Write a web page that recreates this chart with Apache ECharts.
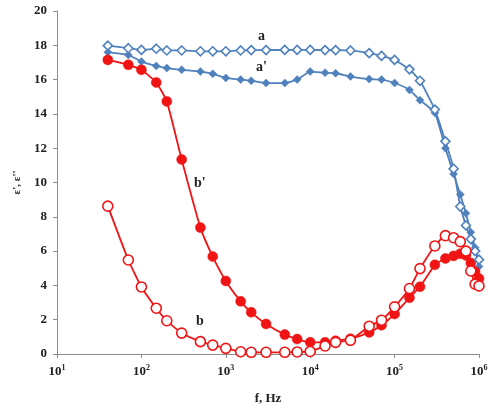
<!DOCTYPE html>
<html>
<head>
<meta charset="utf-8">
<script src="https://cdn.jsdelivr.net/npm/echarts@6/dist/echarts.min.js"></script>
<style>
  html, body { margin: 0; padding: 0; background: #fff; }
  #chart { width: 492px; height: 410px; }
</style>
</head>
<body>
<div id="chart"></div>
<script>
// frequencies, Hz
var freq = [40, 70, 100, 150, 200, 300, 500, 700, 1000, 1500, 2000, 3000, 5000, 7000,
  10000, 15000, 20000, 30000, 50000, 70000, 100000, 150000, 200000, 300000, 400000,
  500000, 600000, 700000, 800000, 900000, 1000000];

// a  (open diamonds)
var epsA = [17.98, 17.83, 17.73, 17.8, 17.7, 17.7, 17.65, 17.65, 17.65, 17.7, 17.72, 17.72,
  17.73, 17.73, 17.73, 17.72, 17.72, 17.7, 17.54, 17.38, 17.15, 16.6, 15.93, 14.25, 12.4,
  10.8, 8.6, 7.5, 6.7, 6.0, 5.5];
// a' (filled diamonds)
var epsA2 = [17.6, 17.44, 17.05, 16.8, 16.67, 16.57, 16.47, 16.34, 16.1, 16.0, 15.93, 15.8,
  15.8, 16.0, 16.47, 16.4, 16.37, 16.18, 16.03, 16.0, 15.8, 15.4, 14.8, 14.06, 12.0,
  10.5, 9.3, 8.2, 7.1, 6.2, 5.1];
// b  (open circles)
var epsB = [8.62, 5.48, 3.91, 2.67, 1.94, 1.22, 0.72, 0.52, 0.33, 0.13, 0.1, 0.1, 0.1, 0.12,
  0.15, 0.47, 0.68, 0.8, 1.62, 1.97, 2.75, 3.82, 4.98, 6.3, 6.9, 6.78, 6.55, 6.0, 4.84,
  4.07, 3.97];
// b' (filled circles)
var epsB2 = [17.15, 16.86, 16.57, 15.83, 14.73, 11.34, 7.37, 5.68, 4.26, 3.07, 2.43, 1.75,
  1.13, 0.87, 0.68, 0.68, 0.77, 0.89, 1.26, 1.68, 2.33, 3.28, 3.92, 5.2, 5.57, 5.72,
  5.84, 5.75, 5.3, 4.8, 4.4];

var yTicks = [0, 2, 4, 6, 8, 10, 12, 14, 16, 18, 20];

var blue = "#4f81bd";
var red = "#f01414";
var serif = "Liberation Serif";

function pairs(arr) {
  return freq.map(function (f, i) { return [f, arr[i]]; });
}

function makeSeries(name, arr, color, symbol, size, open) {
  return {
    name: name,
    type: "line",
    data: pairs(arr),
    symbol: symbol,
    symbolSize: size,
    showAllSymbol: true,
    smooth: 0.15,
    lineStyle: { color: color, width: 1.8 },
    itemStyle: {
      color: open ? "#ffffff" : color,
      borderColor: color,
      borderWidth: open ? 1.6 : 0.5
    },
    emphasis: { disabled: true },
    z: open ? 3 : 2
  };
}

var chart = echarts.init(document.getElementById("chart"));
chart.setOption({
  animation: false,
  backgroundColor: "#ffffff",
  grid: { left: 57, right: 13, top: 11, bottom: 55 },
  xAxis: {
    type: "log",
    logBase: 10,
    min: 10,
    max: 1000000,
    name: "f, Hz",
    nameLocation: "middle",
    nameGap: 38,
    nameTextStyle: { fontFamily: serif, fontWeight: "bold", fontSize: 13, color: "#222" },
    axisLine: { lineStyle: { color: "#8c8c8c", width: 1 } },
    axisTick: { show: true, length: 4, lineStyle: { color: "#8c8c8c" } },
    minorTick: { show: false },
    splitLine: { show: false },
    axisLabel: {
      margin: 10,
      formatter: function (v) {
        return "{b|10}{s|" + Math.round(Math.log10(v)) + "}";
      },
      rich: {
        b: { fontFamily: serif, fontWeight: "bold", fontSize: 13, color: "#222", verticalAlign: "bottom" },
        s: { fontFamily: serif, fontWeight: "bold", fontSize: 8, color: "#222", verticalAlign: "top", padding: [0, 0, 6, 0] }
      }
    }
  },
  yAxis: {
    type: "value",
    min: yTicks[0],
    max: yTicks[yTicks.length - 1],
    interval: 2,
    name: "ε', ε''",
    nameLocation: "middle",
    nameGap: 34,
    nameTextStyle: { fontFamily: serif, fontWeight: "bold", fontSize: 11, color: "#222" },
    axisLine: { show: true, lineStyle: { color: "#8c8c8c", width: 1 } },
    axisTick: { show: true, length: 4, lineStyle: { color: "#8c8c8c" } },
    splitLine: { show: false },
    axisLabel: {
      margin: 10,
      fontFamily: serif,
      fontWeight: "bold",
      fontSize: 13,
      color: "#222"
    }
  },
  series: [
    makeSeries("a", epsA, blue, "diamond", 9, true),
    makeSeries("a'", epsA2, blue, "diamond", 8, false),
    makeSeries("b", epsB, red, "circle", 10, true),
    makeSeries("b'", epsB2, red, "circle", 10, false)
  ],
  // curve letters
  graphic: [
    { type: "text", left: 258, top: 29, style: { text: "a", font: "bold 14px " + serif, fill: "#222" } },
    { type: "text", left: 256, top: 60, style: { text: "a'", font: "bold 14px " + serif, fill: "#222" } },
    { type: "text", left: 194, top: 176, style: { text: "b'", font: "bold 14px " + serif, fill: "#222" } },
    { type: "text", left: 196, top: 314, style: { text: "b", font: "bold 14px " + serif, fill: "#222" } }
  ]
});
</script>
</body>
</html>
